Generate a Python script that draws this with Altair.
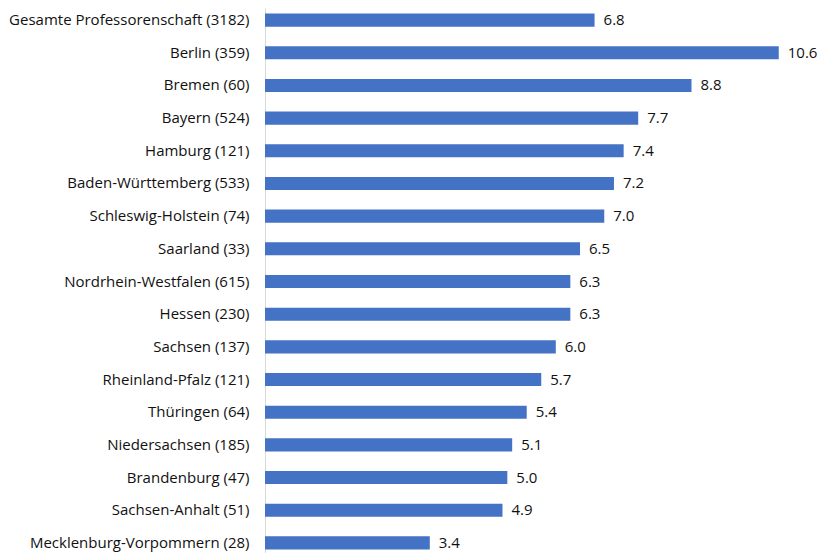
import altair as alt
import pandas as pd

categories = [
    "Gesamte Professorenschaft (3182)", "Berlin (359)", "Bremen (60)", "Bayern (524)",
    "Hamburg (121)", "Baden-Württemberg (533)", "Schleswig-Holstein (74)", "Saarland (33)",
    "Nordrhein-Westfalen (615)", "Hessen (230)", "Sachsen (137)", "Rheinland-Pfalz (121)",
    "Thüringen (64)", "Niedersachsen (185)", "Brandenburg (47)", "Sachsen-Anhalt (51)",
    "Mecklenburg-Vorpommern (28)",
]
values = [6.8, 10.6, 8.8, 7.7, 7.4, 7.2, 7.0, 6.5, 6.3, 6.3, 6.0, 5.7, 5.4, 5.1, 5.0, 4.9, 3.4]

df = pd.DataFrame({"cat": categories, "val": values})
df["lab"] = df["val"].map(lambda v: f"{v:.1f}")

FONT = "Open Sans"
FS = 15

y = alt.Y("cat:N", sort=categories, title=None,
          scale=alt.Scale(paddingInner=0.6, paddingOuter=0.17),
          axis=alt.Axis(domainColor="#d9d9d9", domainWidth=1, ticks=False,
                        labelFont=FONT, labelFontSize=FS, labelColor="#111111",
                        labelPadding=16, labelLimit=400))
x = alt.X("val:Q", title=None, scale=alt.Scale(domain=[0, 11.41], nice=False),
          axis=None)

bars = alt.Chart(df).mark_bar(color="#4472C4").encode(x=x, y=y)
text = alt.Chart(df).mark_text(align="left", baseline="middle", dx=9,
                               font=FONT, fontSize=FS, color="#111111").encode(
    x=x, y=y, text="lab:N")

chart = (bars + text).properties(
    width=553, height=547,
    autosize=alt.AutoSizeParams(type="none"),
    padding={"left": 257, "top": 0, "right": 0, "bottom": 0},
).configure_view(stroke=None)

chart.save("out.html", embed_options={"renderer": "svg", "actions": False})
